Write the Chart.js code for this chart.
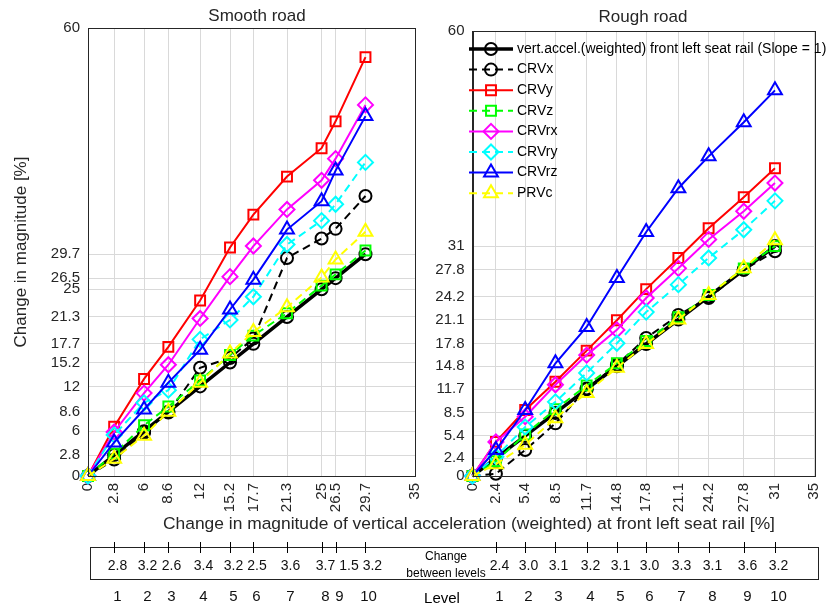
<!DOCTYPE html>
<html>
<head>
<meta charset="UTF-8">
<title>Smooth road / Rough road</title>
<script src="https://cdn.jsdelivr.net/npm/chart.js"></script>
<style>
  body { margin: 0; background: #fff; font-family: "Liberation Sans", Arial, sans-serif; }
  #wrap { position: relative; width: 839px; height: 610px; overflow: hidden; }
  canvas { position: absolute; top: 0; }
  #left { left: 0; }
  #right { left: 400px; }
  .txt { position: absolute; color: #262626; white-space: nowrap; transform: translate(-50%, -50%); line-height: 1; }
  #box { position: absolute; left: 90px; top: 547px; width: 727px; height: 31px; border: 1.5px solid #222; }
</style>
</head>
<body>
<div id="wrap">
  <div id="box"></div>
  <canvas id="left" width="440" height="610"></canvas>
  <canvas id="right" width="439" height="610"></canvas>
  <div class="txt" style="left:257px;top:15px;font-size:17px">Smooth road</div>
  <div class="txt" style="left:643px;top:16px;font-size:17px">Rough road</div>
  <div class="txt" style="left:469px;top:524px;font-size:17.4px">Change in magnitude of vertical acceleration (weighted) at front left seat rail [%]</div>
  <div class="txt" style="left:446px;top:556px;font-size:12px;color:#000">Change</div>
  <div class="txt" style="left:446px;top:573px;font-size:12px;color:#000">between levels</div>
  <div class="txt" style="left:442px;top:597px;font-size:15px;color:#000">Level</div>
</div>

<script>
  // names in legend order
  const names = ['vert.accel.(weighted) front left seat rail (Slope = 1)', 'CRVx', 'CRVy', 'CRVz', 'CRVrx', 'CRVry', 'CRVrz', 'PRVc'];

  // smooth road
  const smoothX     = [0, 2.8, 6, 8.6, 12, 15.2, 17.7, 21.3, 25, 26.5, 29.7];
  const smoothRef   = [0, 2.8, 6, 8.6, 12, 15.2, 17.7, 21.3, 25, 26.5, 29.7];
  const smoothCRVx  = [0, 2.2, 5.8, 8.5, 14.5, 15.8, 18.4, 29.2, 31.8, 33.1, 37.5];
  const smoothCRVy  = [0, 6.6, 13.0, 17.3, 23.5, 30.6, 35.0, 40.1, 43.9, 47.5, 56.1];
  const smoothCRVz  = [0, 3.0, 6.8, 9.3, 12.8, 16.2, 18.8, 21.8, 25.5, 27.0, 30.2];
  const smoothCRVrx = [0, 5.9, 11.1, 14.9, 21.1, 26.7, 30.8, 35.7, 39.6, 42.5, 49.7];
  const smoothCRVry = [0, 5.5, 9.8, 11.5, 18.3, 20.9, 24.0, 31.0, 34.2, 36.4, 42.0];
  const smoothCRVrz = [0, 4.5, 8.9, 12.5, 16.9, 22.3, 26.3, 33.0, 36.8, 40.9, 48.2];
  const smoothPRVc  = [0, 2.3, 5.4, 8.6, 12.5, 16.4, 19.3, 22.6, 26.6, 29.0, 32.7];
  const smoothXTicks = [0, 2.8, 6, 8.6, 12, 15.2, 17.7, 21.3, 25, 26.5, 29.7, 35];
  const smoothYTicks = [0, 2.8, 6, 8.6, 12, 15.2, 17.7, 21.3, 25, 26.5, 29.7, 60];
  const smoothDiff   = [2.8, 3.2, 2.6, 3.4, 3.2, 2.5, 3.6, 3.7, 1.5, 3.2];

  // rough road
  const roughX     = [0, 2.4, 5.4, 8.5, 11.7, 14.8, 17.8, 21.1, 24.2, 27.8, 31];
  const roughRef   = [0, 2.4, 5.4, 8.5, 11.7, 14.8, 17.8, 21.1, 24.2, 27.8, 31];
  const roughCRVx  = [0, 0.3, 3.5, 7.1, 11.8, 15.0, 18.6, 21.7, 24.0, 27.8, 30.3];
  const roughCRVy  = [0, 4.6, 8.9, 12.7, 16.9, 21.0, 25.2, 29.4, 33.4, 37.6, 41.5];
  const roughCRVz  = [0, 2.0, 5.6, 9.0, 12.2, 15.2, 18.2, 21.4, 24.4, 28.0, 31.0];
  const roughCRVrx = [0, 4.6, 8.0, 12.3, 16.3, 19.7, 24.0, 28.0, 31.9, 35.7, 39.5];
  const roughCRVry = [0, 2.6, 6.6, 10.0, 13.9, 17.9, 22.1, 25.8, 29.4, 33.2, 37.1];
  const roughCRVrz = [0, 3.5, 8.9, 15.2, 20.1, 26.7, 32.9, 38.8, 43.1, 47.7, 52.0];
  const roughPRVc  = [0, 1.6, 4.2, 7.8, 11.2, 14.6, 17.8, 21.1, 24.4, 28.0, 31.8];
  const roughXTicks = [0, 2.4, 5.4, 8.5, 11.7, 14.8, 17.8, 21.1, 24.2, 27.8, 31, 35];
  const roughYTicks = [0, 2.4, 5.4, 8.5, 11.7, 14.8, 17.8, 21.1, 24.2, 27.8, 31, 60];
  const roughDiff   = [2.4, 3.0, 3.1, 3.2, 3.1, 3.0, 3.3, 3.1, 3.6, 3.2];

  const levels = [1, 2, 3, 4, 5, 6, 7, 8, 9, 10];

  const styles = [
    { color: '#000000', dash: [],     marker: 'circle',   r: 6,   w: 3.5 },
    { color: '#000000', dash: [8, 5], marker: 'circle',   r: 6,   w: 2 },
    { color: '#ff0000', dash: [],     marker: 'rect',     r: 7,   w: 2 },
    { color: '#00ff00', dash: [8, 5], marker: 'rect',     r: 7,   w: 2 },
    { color: '#ff00ff', dash: [],     marker: 'rectRot',  r: 7.5, w: 2 },
    { color: '#00ffff', dash: [8, 5], marker: 'rectRot',  r: 7.5, w: 2 },
    { color: '#0000ff', dash: [],     marker: 'triangle', r: 8,   w: 2 },
    { color: '#ffff00', dash: [8, 5], marker: 'triangle', r: 8,   w: 2 }
  ];

  const FONT = '"Liberation Sans", Arial, sans-serif';

  function makeSets(xs, series) {
    return series.map((ys, i) => ({
      label: names[i],
      data: xs.map((x, j) => ({ x: x, y: ys[j] })),
      borderColor: styles[i].color,
      borderWidth: styles[i].w,
      borderDash: styles[i].dash,
      pointStyle: styles[i].marker,
      pointRadius: styles[i].r,
      pointBorderWidth: 2,
      pointBorderColor: styles[i].color,
      pointBackgroundColor: 'rgba(0,0,0,0)',
      fill: false,
      tension: 0,
      clip: false,
      order: series.length - i
    }));
  }

  // write a row of labels under the ticks, pushing a label right if it would hit the one before
  function labelRow(ctx, texts, pxs, y, font) {
    ctx.font = font;
    let prevRight = -1e9;
    texts.forEach((t, i) => {
      const w = ctx.measureText(t).width;
      let cx = pxs[i] + 3;
      if (cx - w / 2 < prevRight + 4) cx = prevRight + 4 + w / 2;
      ctx.fillText(t, cx, y);
      prevRight = cx + w / 2;
    });
  }

  // box around the axes and the level table under them
  const frame = {
    id: 'frame',
    afterDraw(chart, args, opts) {
      const { ctx, chartArea: a } = chart;
      const x = chart.scales.x;
      ctx.save();
      ctx.strokeStyle = '#262626';
      ctx.lineWidth = 1;
      ctx.strokeRect(Math.round(a.left) + 0.5, Math.round(a.top) + 0.5, Math.round(a.width), Math.round(a.height));
      ctx.strokeStyle = '#000';
      ctx.fillStyle = '#111';
      ctx.textAlign = 'center';
      ctx.textBaseline = 'middle';
      const pxs = opts.xs.slice(1).map(v => Math.round(x.getPixelForValue(v)) + 0.5);
      pxs.forEach(px => {
        ctx.beginPath();
        ctx.moveTo(px, 542);
        ctx.lineTo(px, 553);
        ctx.stroke();
      });
      labelRow(ctx, opts.diff.map(d => d.toFixed(1)), pxs, 566, '14px ' + FONT);
      labelRow(ctx, levels.map(String), pxs, 597, '15px ' + FONT);
      ctx.restore();
    }
  };

  function marker(ctx, style, r, x, y) {
    ctx.beginPath();
    if (style === 'circle') {
      ctx.arc(x, y, r, 0, Math.PI * 2);
    } else if (style === 'rect') {
      const s = r * Math.SQRT1_2;
      ctx.rect(x - s, y - s, 2 * s, 2 * s);
    } else if (style === 'rectRot') {
      ctx.moveTo(x, y - r); ctx.lineTo(x + r, y); ctx.lineTo(x, y + r); ctx.lineTo(x - r, y); ctx.closePath();
    } else {
      const h = r * 1.5, w = r * Math.sqrt(3) / 2;
      ctx.moveTo(x - w, y + h / 3); ctx.lineTo(x + w, y + h / 3); ctx.lineTo(x, y - 2 * h / 3); ctx.closePath();
    }
    ctx.stroke();
  }

  const legendBox = {
    id: 'legendBox',
    afterDraw(chart) {
      const ctx = chart.ctx;
      chart.data.datasets.forEach((ds, i) => {
        const y = 49 + i * 20.6;
        ctx.save();
        ctx.strokeStyle = ds.borderColor;
        ctx.lineWidth = ds.borderWidth;
        ctx.setLineDash(ds.borderDash);
        ctx.beginPath();
        ctx.moveTo(69, y);
        ctx.lineTo(113, y);
        ctx.stroke();
        ctx.setLineDash([]);
        ctx.lineWidth = 2;
        marker(ctx, ds.pointStyle, ds.pointRadius, 91, y);
        ctx.fillStyle = '#000';
        ctx.font = '14px ' + FONT;
        ctx.textBaseline = 'middle';
        ctx.fillText(ds.label, 117, y);
        ctx.restore();
      });
    }
  };

  function build(id, xs, series, xTicks, yTicks, diff, o) {
    const plugins = [frame];
    if (o.legend) plugins.push(legendBox);
    return new Chart(document.getElementById(id), {
      type: 'line',
      data: { datasets: makeSets(xs, series) },
      plugins: plugins,
      options: {
        responsive: false,
        animation: false,
        layout: { padding: { left: 0, right: o.right, top: o.top, bottom: 94 } },
        plugins: {
          legend: { display: false },
          tooltip: { enabled: false },
          frame: { xs: xs, diff: diff }
        },
        scales: {
          x: {
            type: 'linear', min: 0, max: 35,
            afterBuildTicks: s => { s.ticks = xTicks.map(v => ({ value: v })); },
            afterFit: s => { s.height = 40; },
            grid: { color: '#d9d9d9', drawTicks: false },
            border: { color: '#262626' },
            ticks: {
              autoSkip: false, minRotation: 90, maxRotation: 90, padding: 7,
              color: '#262626', font: { family: FONT, size: 15 },
              callback: v => String(v)
            }
          },
          y: {
            type: 'linear', min: 0, max: 60,
            afterBuildTicks: s => { s.ticks = yTicks.map(v => ({ value: v })); },
            afterFit: s => { s.width = o.yWidth; },
            grid: { color: '#d9d9d9', drawTicks: false },
            border: { color: '#262626' },
            ticks: {
              autoSkip: false, padding: 8,
              color: '#262626', font: { family: FONT, size: 15 },
              callback: v => String(v)
            },
            title: {
              display: o.yTitle, text: 'Change in magnitude [%]',
              color: '#262626', font: { family: FONT, size: 17 },
              padding: { top: 11, bottom: 0 }
            }
          }
        }
      }
    });
  }

  build('left', smoothX,
    [smoothRef, smoothCRVx, smoothCRVy, smoothCRVz, smoothCRVrx, smoothCRVry, smoothCRVrz, smoothPRVc],
    smoothXTicks, smoothYTicks, smoothDiff,
    { right: 13, top: 28, yWidth: 88, yTitle: true, legend: false });

  build('right', roughX,
    [roughRef, roughCRVx, roughCRVy, roughCRVz, roughCRVrx, roughCRVry, roughCRVrz, roughPRVc],
    roughXTicks, roughYTicks, roughDiff,
    { right: 25, top: 31, yWidth: 72.5, yTitle: false, legend: true });
</script>
</body>
</html>
